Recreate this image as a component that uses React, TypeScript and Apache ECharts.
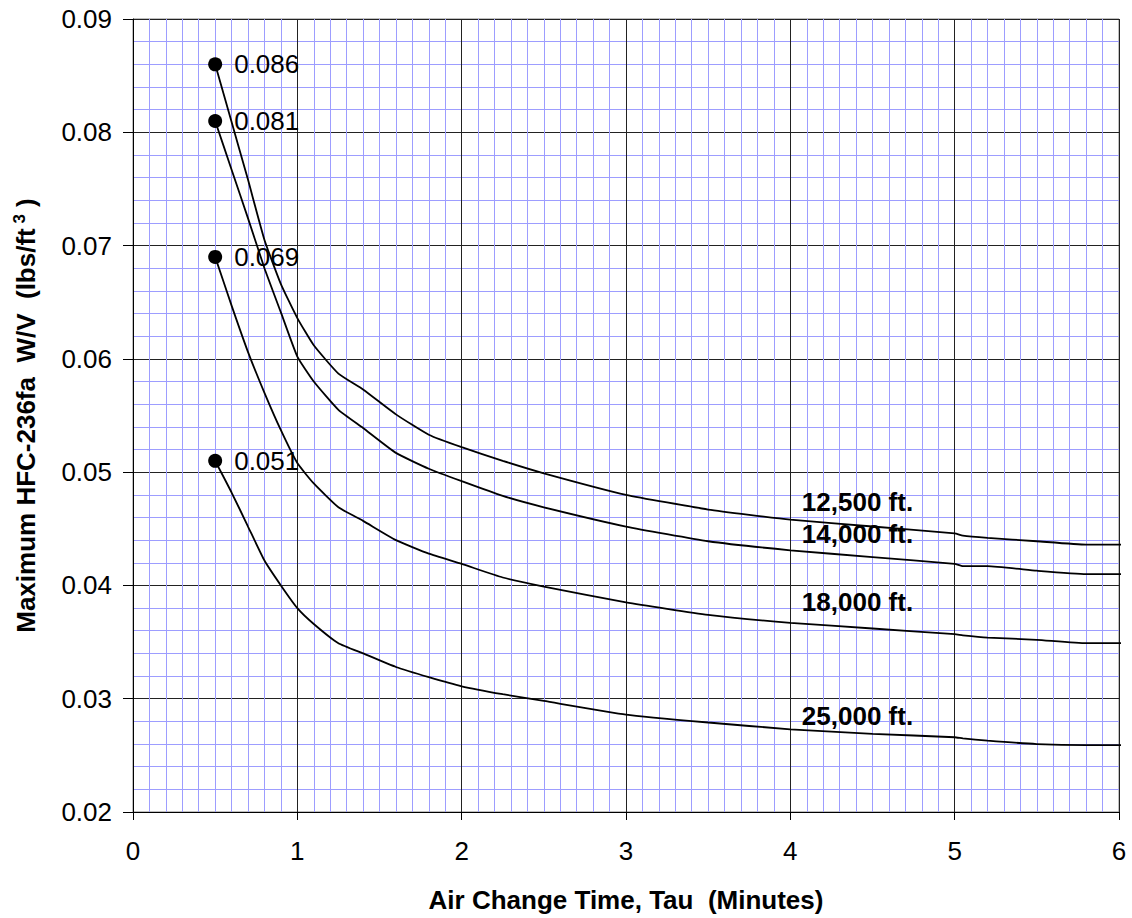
import React, { useEffect, useRef } from "react";
import * as echarts from "echarts";

// Air change time (minutes) at which each curve is sampled
const tau = [0.5, 0.6, 0.7, 0.8, 0.9, 1.0, 1.1, 1.25, 1.4, 1.6, 1.8, 2.0, 2.25, 2.5, 3.0, 3.5, 4.0, 4.5, 5.0, 5.05, 5.2, 5.5, 5.8, 6.08];

// Maximum HFC-236fa W/V (lbs/ft^3) for each altitude
const wv12500 = [0.086, 0.0809, 0.0758, 0.0705, 0.0666, 0.0636, 0.0612, 0.0587, 0.0573, 0.0551, 0.0533, 0.0522, 0.051, 0.0499, 0.048, 0.0467, 0.0458, 0.0452, 0.0446, 0.0444, 0.0442, 0.0439, 0.0436, 0.0436];
const wv14000 = [0.081, 0.0767, 0.0724, 0.068, 0.0641, 0.0602, 0.058, 0.0555, 0.0539, 0.0517, 0.0503, 0.0492, 0.0479, 0.0469, 0.0452, 0.0439, 0.0431, 0.0425, 0.0419, 0.0417, 0.0417, 0.0413, 0.041, 0.041];
const wv18000 = [0.069, 0.0647, 0.0606, 0.057, 0.0537, 0.0508, 0.049, 0.0469, 0.0457, 0.044, 0.0428, 0.0419, 0.0407, 0.0399, 0.0385, 0.0374, 0.0367, 0.0362, 0.0357, 0.0356, 0.0354, 0.0352, 0.0349, 0.0349];
const wv25000 = [0.051, 0.0482, 0.0452, 0.0422, 0.04, 0.038, 0.0366, 0.0349, 0.034, 0.0328, 0.0319, 0.0311, 0.0304, 0.0298, 0.0286, 0.0279, 0.0273, 0.0269, 0.0266, 0.0265, 0.0263, 0.026, 0.0259, 0.0259];

const altitudeNames = ["12,500 ft.", "14,000 ft.", "18,000 ft.", "25,000 ft."];
// Anchor (tau, W/V) of each altitude caption
const altitudeTau = [4.07, 4.07, 4.07, 4.07];
const altitudeWv = [0.0474, 0.0445, 0.0385, 0.0285];

const FONT = "'Liberation Sans', Arial, sans-serif";

function curve(name: string, values: number[]) {
  return {
    name,
    type: "line",
    clip: false,
    smooth: 0.15,
    symbol: "none",
    lineStyle: { color: "#000", width: 1.8 },
    data: values.map((v, i) =>
      i === 0
        ? {
            value: [tau[i], v],
            symbol: "circle",
            symbolSize: 14,
            itemStyle: { color: "#000" },
            label: {
              show: true,
              position: "right",
              distance: 12,
              fontFamily: FONT,
              fontSize: 26,
              color: "#000",
              formatter: (p: any) => p.value[1].toFixed(3),
            },
          }
        : [tau[i], v]
    ),
  };
}

export default function App() {
  const ref = useRef<HTMLDivElement>(null);

  useEffect(() => {
    if (!ref.current) return;
    const chart = echarts.init(ref.current, undefined, { renderer: "svg" });
    chart.setOption({
      animation: false,
      backgroundColor: "#fff",
      grid: {
        left: 133,
        top: 19,
        right: 13,
        bottom: 105,
        show: true,
        borderColor: "#808080",
        borderWidth: 1,
      },
      xAxis: {
        type: "value",
        min: 0,
        max: 6,
        interval: 1,
        name: "Air Change Time, Tau  (Minutes)",
        nameLocation: "middle",
        nameGap: 75,
        nameTextStyle: { fontFamily: FONT, fontSize: 26, fontWeight: "bold", color: "#000" },
        axisLine: { show: true, onZero: false, lineStyle: { color: "#000", width: 1 } },
        axisTick: { show: true, length: 8, lineStyle: { color: "#000" } },
        axisLabel: { margin: 26, fontFamily: FONT, fontSize: 26, color: "#000" },
        splitLine: { show: true, lineStyle: { color: "#222", width: 1 } },
        minorTick: { show: false, splitNumber: 10 },
        minorSplitLine: { show: true, lineStyle: { color: "#9d9dff", width: 1 } },
      },
      yAxis: {
        type: "value",
        min: 0.02,
        max: 0.09,
        interval: 0.01,
        name: "{t|Maximum HFC-236fa  W/V  (lbs/ft}{s| 3}{t| )}",
        nameLocation: "middle",
        nameGap: 92,
        nameRotate: 90,
        nameTextStyle: {
          rich: {
            t: { fontFamily: FONT, fontSize: 26, fontWeight: "bold", color: "#000", lineHeight: 30 },
            s: { fontFamily: FONT, fontSize: 17, fontWeight: "bold", color: "#000", verticalAlign: "top", lineHeight: 17 },
          },
        },
        axisLine: { show: true, lineStyle: { color: "#000", width: 1 } },
        axisTick: { show: true, length: 10, lineStyle: { color: "#000" } },
        axisLabel: {
          margin: 21,
          fontFamily: FONT,
          fontSize: 26,
          color: "#000",
          formatter: (v: number) => v.toFixed(2),
        },
        splitLine: { show: true, lineStyle: { color: "#222", width: 1 } },
        minorTick: { show: false, splitNumber: 5 },
        minorSplitLine: { show: true, lineStyle: { color: "#9d9dff", width: 1 } },
      },
      series: [
        curve("12,500 ft.", wv12500),
        curve("14,000 ft.", wv14000),
        curve("18,000 ft.", wv18000),
        curve("25,000 ft.", wv25000),
        {
          name: "altitude captions",
          type: "scatter",
          symbolSize: 0,
          itemStyle: { color: "#000" },
          emphasis: { disabled: true },
          data: altitudeTau.map((t, i) => [t, altitudeWv[i]]),
          label: {
            show: true,
            position: "right",
            distance: 0,
            fontFamily: FONT,
            fontSize: 26,
            fontWeight: "bold",
            color: "#000",
            opacity: 1,
            formatter: (p: any) => altitudeNames[p.dataIndex],
          },
        },
      ],
    });
    return () => chart.dispose();
  }, []);

  return (
    <div
      ref={ref}
      style={{ position: "fixed", left: 0, top: 0, width: 1132, height: 918 }}
    />
  );
}
